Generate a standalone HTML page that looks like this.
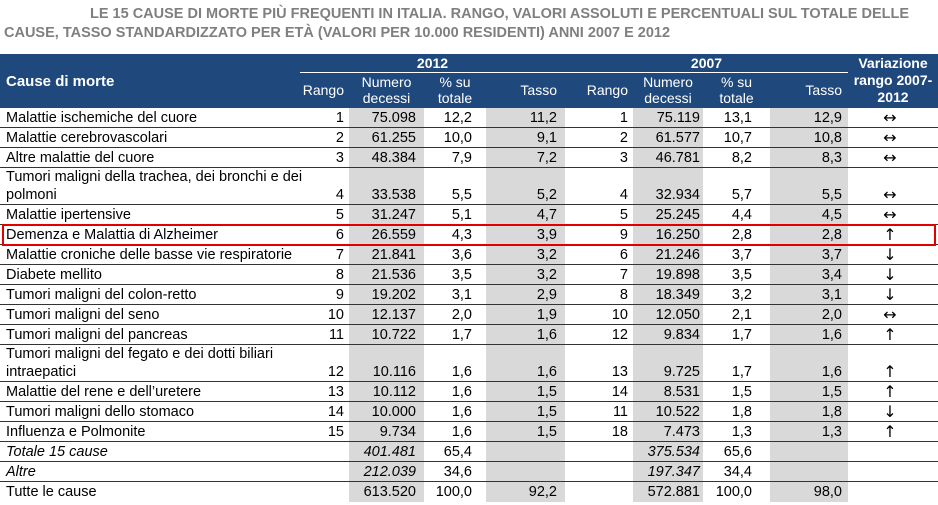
<!DOCTYPE html>
<html><head><meta charset="utf-8"><style>
body{margin:0;width:938px;height:505px;background:#fff;position:relative;overflow:hidden;font-family:"Liberation Sans Narrow","Liberation Sans",sans-serif;}
div{position:absolute;}
.t{font-family:"Liberation Sans",sans-serif;font-weight:bold;color:#7f7f7f;font-size:14.5px;white-space:nowrap}
.c{font-size:14.5px;color:#000;white-space:nowrap;line-height:16px}
.h{color:#fff;font-size:14px;line-height:16px;white-space:nowrap}
.g{background:#d9d9d9}
</style></head><body>
<div class="t" style="left:90px;top:6px">LE 15 CAUSE DI MORTE PIÙ FREQUENTI IN ITALIA. RANGO, VALORI ASSOLUTI E PERCENTUALI SUL TOTALE DELLE</div>
<div class="t" style="left:4px;top:25px">CAUSE, TASSO STANDARDIZZATO PER ETÀ (VALORI PER 10.000 RESIDENTI) ANNI 2007 E 2012</div>
<div style="left:0;top:54px;width:938px;height:54px;background:#1f497d"></div>
<div style="left:300px;top:72px;width:548px;height:1px;background:#fff"></div>
<script>
const R=document.body;
function add(html){R.insertAdjacentHTML('beforeend',html);}
add('<div class="h" style="left:6px;top:74px;font-weight:bold;font-size:15px">Cause di morte</div>');
add('<div class="h" style="left:300px;width:265px;top:55px;text-align:center;font-weight:bold">2012</div>');
add('<div class="h" style="left:565px;width:283px;top:55px;text-align:center;font-weight:bold">2007</div>');
add('<div class="h" style="left:848px;width:90px;top:55px;text-align:center;font-weight:bold;line-height:17px">Variazione<br>rango 2007-<br>2012</div>');
[[0,'Rango'],[265,'Rango']].forEach(([o,t])=>add(`<div class="h" style="left:${300+o}px;width:${o?63:44}px;top:82px;text-align:right">${t}</div>`));
add('<div class="h" style="left:349px;width:75px;top:74px;text-align:center">Numero<br>decessi</div>');
add('<div class="h" style="left:424px;width:62px;top:74px;text-align:center">% su<br>totale</div>');
add('<div class="h" style="left:486px;width:71px;top:82px;text-align:right">Tasso</div>');
add('<div class="h" style="left:633px;width:70px;top:74px;text-align:center">Numero<br>decessi</div>');
add('<div class="h" style="left:703px;width:67px;top:74px;text-align:center">% su<br>totale</div>');
add('<div class="h" style="left:770px;width:72px;top:82px;text-align:right">Tasso</div>');
[[349,424],[486,565],[633,703],[770,848]].forEach(([a,b])=>add(`<div class="g" style="left:${a}px;top:108px;width:${b-a}px;height:394px"></div>`));
const rows=[
["Malattie ischemiche del cuore","1","75.098","12,2","11,2","1","75.119","13,1","12,9","↔"],
["Malattie cerebrovascolari","2","61.255","10,0","9,1","2","61.577","10,7","10,8","↔"],
["Altre malattie del cuore","3","48.384","7,9","7,2","3","46.781","8,2","8,3","↔"],
["Tumori maligni della trachea, dei bronchi e dei|polmoni","4","33.538","5,5","5,2","4","32.934","5,7","5,5","↔"],
["Malattie ipertensive","5","31.247","5,1","4,7","5","25.245","4,4","4,5","↔"],
["Demenza e Malattia di Alzheimer","6","26.559","4,3","3,9","9","16.250","2,8","2,8","↑"],
["Malattie croniche delle basse vie respiratorie","7","21.841","3,6","3,2","6","21.246","3,7","3,7","↓"],
["Diabete mellito","8","21.536","3,5","3,2","7","19.898","3,5","3,4","↓"],
["Tumori maligni del colon-retto","9","19.202","3,1","2,9","8","18.349","3,2","3,1","↓"],
["Tumori maligni del seno","10","12.137","2,0","1,9","10","12.050","2,1","2,0","↔"],
["Tumori maligni del pancreas","11","10.722","1,7","1,6","12","9.834","1,7","1,6","↑"],
["Tumori maligni del fegato e dei dotti biliari|intraepatici","12","10.116","1,6","1,6","13","9.725","1,7","1,6","↑"],
["Malattie del rene e dell’uretere","13","10.112","1,6","1,5","14","8.531","1,5","1,5","↑"],
["Tumori maligni dello stomaco","14","10.000","1,6","1,5","11","10.522","1,8","1,8","↓"],
["Influenza e Polmonite","15","9.734","1,6","1,5","18","7.473","1,3","1,3","↑"],
["<i>Totale 15 cause</i>","","<i>401.481</i>","65,4","","","<i>375.534</i>","65,6","",""],
["<i>Altre</i>","","<i>212.039</i>","34,6","","","<i>197.347</i>","34,4","",""],
["Tutte le cause","","613.520","100,0","92,2","","572.881","100,0","98,0",""]];
const rights=[344,416,472,557,628,700,752,842];
let y=108;
rows.forEach((r,i)=>{
 const dbl=r[0].includes('|');const h=dbl?37:20;
 const ty=y+h-18;
 if(dbl){const p=r[0].split('|');add(`<div class="c" style="left:6px;top:${y+1}px">${p[0]}</div><div class="c" style="left:6px;top:${ty}px">${p[1]}</div>`);}
 else add(`<div class="c" style="left:6px;top:${ty}px">${r[0]}</div>`);
 for(let k=1;k<=8;k++) if(r[k]) add(`<div class="c" style="left:${rights[k-1]-80}px;width:80px;text-align:right;top:${ty}px">${r[k]}</div>`);
 if(r[9]) add(`<div class="c" style="left:875px;width:30px;text-align:center;top:${ty}px;font-size:16px;font-family:'DejaVu Sans',sans-serif">${r[9]}</div>`);
 y+=h;
 if(i<rows.length-1) add(`<div style="left:0;top:${y-1}px;width:938px;height:1px;background:#333"></div>`);
});
add('<div style="left:2px;top:224px;width:930px;height:18px;border:2px solid #e00000"></div>');
</script>
</body></html>
